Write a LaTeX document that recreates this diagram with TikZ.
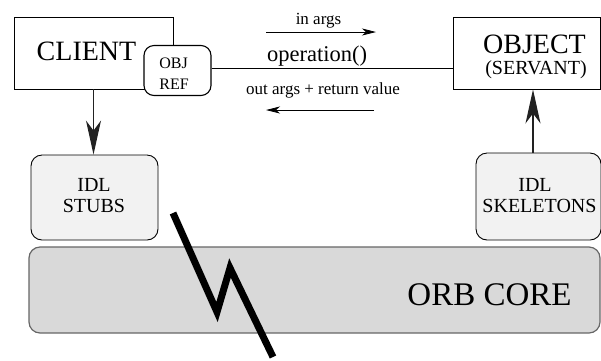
\documentclass[tikz,border=0pt]{standalone}
\usepackage{fontspec}
\setmainfont{Liberation Serif}
\usetikzlibrary{arrows.meta}

\definecolor{stubfill}{HTML}{F2F2F2}
\definecolor{corefill}{HTML}{D9D9D9}
\definecolor{coreline}{HTML}{666666}
\definecolor{darkline}{HTML}{222222}

\newcommand{\fs}[1]{\fontsize{#1}{#1}\selectfont}

\tikzset{
  plainbox/.style={draw=black, line width=0.9pt, fill=white, inner sep=0pt},
  refbox/.style={draw=black, line width=1.1pt, fill=white, rounded corners=10pt, inner sep=0pt},
  idlbox/.style={draw=black, line width=0.9pt, fill=stubfill, rounded corners=11pt, inner sep=0pt},
  corebox/.style={draw=coreline, line width=1.2pt, fill=corefill, rounded corners=11pt, inner sep=0pt},
  txt/.style={anchor=base, inner sep=0pt},
  bighead/.style={-{Stealth[length=34pt, width=15pt, inset=10pt]}, line width=1.2pt, draw=darkline},
  smallhead/.style={-{Stealth[length=14pt, width=7pt, inset=4pt]}, line width=0.8pt},
  bolt/.style={line width=7pt, line join=miter, line cap=butt}
}

\begin{document}
\begin{tikzpicture}[x=1pt, y=-1pt]
  \useasboundingbox (0,0) rectangle (601,360);

  % ORB core band
  \node[corebox, minimum width=571pt, minimum height=86pt] (orb) at (314.5,290) {};
  \node[txt] (orbtext) at (489.5,305) {\fs{33}ORB CORE};

  % client side
  \node[plainbox, minimum width=159pt, minimum height=72pt] (client) at (93.5,53) {};
  \node[txt] (clienttext) at (86.5,60) {\fs{28}CLIENT};
  \node[refbox, minimum width=67pt, minimum height=50pt] (objref) at (177.5,70.5) {};
  \node[txt] (objtext) at (173.5,68) {\fs{16}OBJ};
  \node[txt] (reftext) at (174,89) {\fs{16}REF};

  % servant side
  \node[plainbox, minimum width=147pt, minimum height=72pt] (object) at (526.5,53) {};
  \node[txt] (objecttext) at (534.5,53) {\fs{28}OBJECT};
  \node[txt] (servanttext) at (536,74) {\fs{20}(SERVANT)};

  % IDL stubs and skeletons
  \node[idlbox, minimum width=127pt, minimum height=85pt] (stubs) at (94.5,197.5) {};
  \node[txt] (stubsidl) at (94,191) {\fs{20}IDL};
  \node[txt] (stubstext) at (94,212) {\fs{20}STUBS};
  \node[idlbox, minimum width=125pt, minimum height=87pt] (skel) at (538.5,196.5) {};
  \node[txt] (skelidl) at (535,191) {\fs{20}IDL};
  \node[txt] (skeltext) at (539.5,212) {\fs{20}SKELETONS};

  % invocation line and its labels
  \draw[line width=0.9pt] ([yshift=2.5pt]objref.east) -- ([yshift=2.5pt]objref.east -| object.west);
  \node[txt] (optext) at (317,61) {\fs{22.5}operation()};
  \node[txt] (intext) at (318.5,24) {\fs{17}in args};
  \node[txt] (outtext) at (323,94) {\fs{17}out args + return value};

  \coordinate (inA) at (266,32);
  \coordinate (inB) at (376,32);
  \coordinate (outA) at (374,110);
  \coordinate (outB) at (266,110);
  \draw[smallhead] (inA) -- (inB);
  \draw[smallhead] (outA) -- (outB);

  % stub and skeleton calls
  \draw[bighead] (client.south) -- (client.south |- stubs.north);
  \draw[bighead] ([xshift=-5.5pt]skel.north) -- ([xshift=-5.5pt]skel.north |- object.south);

  % broken connection
  \coordinate (b0) at (173,213);
  \coordinate (b1) at (217,312);
  \coordinate (b2) at (230,268);
  \coordinate (b3) at (273,357);
  \draw[bolt] (b0) -- (b1) -- (b2) -- (b3);
\end{tikzpicture}
\end{document}
